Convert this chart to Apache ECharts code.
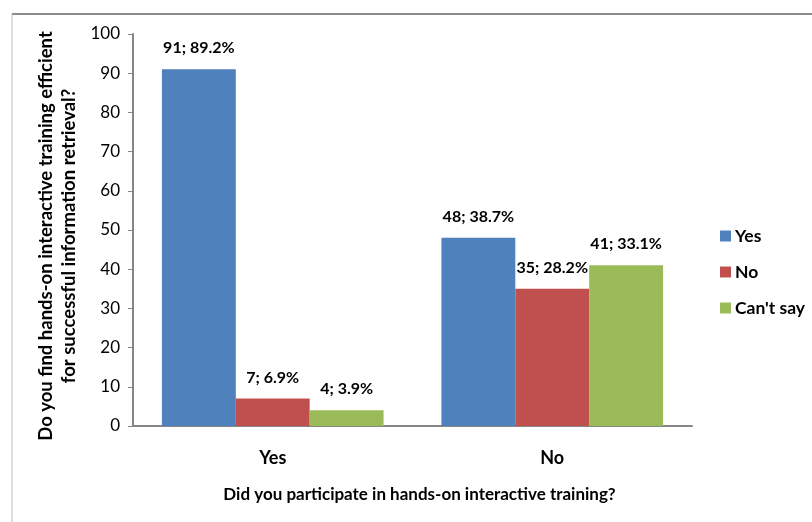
<!DOCTYPE html>
<html>
<head>
<meta charset="utf-8">
<script src="https://cdn.jsdelivr.net/npm/echarts@6/dist/echarts.min.js"></script>
<style>
html,body{margin:0;padding:0;background:#fff;}
#c{width:812px;height:522px;}
</style>
</head>
<body>
<div id="c"></div>
<script>
const categories = ['Yes', 'No'];
const seriesNames = ['Yes', 'No', "Can't say"];
const countsYes = [91, 48];
const countsNo = [7, 35];
const countsCant = [4, 41];
const pctYes = ['89.2%', '38.7%'];
const pctNo = ['6.9%', '28.2%'];
const pctCant = ['3.9%', '33.1%'];
const yTicks = [0, 10, 20, 30, 40, 50, 60, 70, 80, 90, 100];
const colors = ['#4F81BD', '#C0504D', '#9BBB59'];
const FONT = 'Lato';

const chart = echarts.init(document.getElementById('c'), null, {renderer: 'canvas'});

function mk(name, vals, pcts, color) {
  return {
    name: name,
    type: 'bar',
    data: vals,
    barGap: '0%',
    barCategoryGap: '20.7%',
    itemStyle: {color: color},
    label: {
      show: true,
      position: 'top',
      distance: 13,
      fontFamily: FONT,
      fontWeight: 'bold',
      fontSize: 16,
      color: '#000',
      formatter: p => vals[p.dataIndex] + '; ' + pcts[p.dataIndex]
    }
  };
}

chart.setOption({
  animation: false,
  backgroundColor: '#fff',
  textStyle: {fontFamily: FONT},
  grid: {left: 133, right: 120, top: 34, bottom: 96},
  legend: {
    orient: 'vertical',
    left: 715,
    top: 222,
    itemWidth: 11,
    itemHeight: 11,
    itemGap: 18,
    icon: 'rect',
    textStyle: {fontFamily: FONT, fontWeight: 'bold', fontSize: 17.5, color: '#000', padding: [0, 0, 0, -1]},
    data: seriesNames
  },
  xAxis: {
    type: 'category',
    data: categories,
    axisLine: {lineStyle: {color: '#868686', width: 2}},
    axisTick: {show: false},
    axisLabel: {margin: 23, fontFamily: FONT, fontWeight: 'bold', fontSize: 18, color: '#000'},
    name: 'Did you participate in hands-on interactive training?',
    nameLocation: 'middle',
    nameGap: 60,
    nameTextStyle: {fontFamily: FONT, fontWeight: 'bold', fontSize: 17, color: '#000', padding: [0, 0, 0, 14]}
  },
  yAxis: {
    type: 'value',
    min: yTicks[0],
    max: yTicks[yTicks.length - 1],
    interval: 10,
    splitLine: {show: false},
    axisLine: {show: true, lineStyle: {color: '#868686', width: 2}},
    axisTick: {show: true, length: 5, lineStyle: {color: '#868686'}},
    axisLabel: {margin: 13, fontFamily: FONT, fontSize: 17, color: '#000'}
  },
  graphic: [
    {type: 'line', shape: {x1: 12, y1: 14, x2: 812, y2: 14}, style: {stroke: '#8c8c8c', lineWidth: 2}},
    {type: 'line', shape: {x1: 12, y1: 14, x2: 12, y2: 522}, style: {stroke: '#bfbfbf', lineWidth: 1}},
    {
      type: 'text',
      x: 58, y: 236,
      rotation: Math.PI / 2,
      style: {
        text: 'Do you find hands-on interactive training efficient\nfor successful information retrieval?',
        fontFamily: FONT, fontWeight: 'bold', fontSize: 18.5, fill: '#000',
        textAlign: 'center', textVerticalAlign: 'middle', lineHeight: 23
      }
    }
  ],
  series: [
    mk(seriesNames[0], countsYes, pctYes, colors[0]),
    mk(seriesNames[1], countsNo, pctNo, colors[1]),
    mk(seriesNames[2], countsCant, pctCant, colors[2])
  ]
});
</script>
</body>
</html>
